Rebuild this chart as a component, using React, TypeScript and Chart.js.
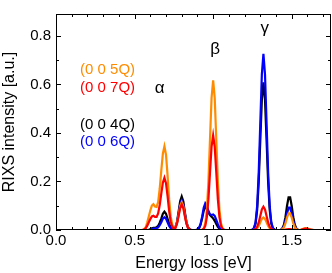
import { useEffect, useRef } from "react";
import { Chart, registerables } from "chart.js";

Chart.register(...registerables);

// Energy loss grid (eV)
const energy = [
  0, 0.5,
  0.55, 0.56, 0.57, 0.58, 0.59, 0.6, 0.61, 0.62, 0.63, 0.64, 0.65, 0.66, 0.67, 0.68, 0.69,
  0.7, 0.71, 0.72, 0.73, 0.74, 0.75, 0.76, 0.77, 0.78, 0.79, 0.8, 0.81, 0.82, 0.83, 0.84,
  0.85, 0.86, 0.87, 0.88, 0.89, 0.9, 0.91, 0.92, 0.93, 0.94, 0.95, 0.96, 0.97, 0.98, 0.99,
  1.0, 1.01, 1.02, 1.03, 1.04, 1.05, 1.06, 1.07, 1.08, 1.09, 1.1,
  1.15, 1.2,
  1.22, 1.23, 1.24, 1.25, 1.26, 1.27, 1.28, 1.29, 1.3, 1.31, 1.32, 1.33, 1.34, 1.35, 1.36,
  1.37, 1.38, 1.39, 1.4, 1.41, 1.42, 1.43, 1.44, 1.45, 1.46, 1.47, 1.48, 1.49, 1.5, 1.51,
  1.52, 1.53, 1.54, 1.55, 1.56, 1.57, 1.58, 1.59, 1.6, 1.61, 1.62, 1.63, 1.64,
  1.7, 1.75,
];

// (0 0 5Q) - orange
const q005 = [
  0, 0,
  0, 0.003, 0.01, 0.03, 0.055, 0.08, 0.1, 0.106, 0.097, 0.095, 0.115, 0.17, 0.245, 0.315, 0.345,
  0.31, 0.225, 0.125, 0.055, 0.022, 0.008, 0.011, 0.03, 0.062, 0.099, 0.115, 0.099, 0.062, 0.029, 0.01,
  0.002, 0, 0, 0, 0, 0, 0, 0, 0.001, 0.007, 0.027, 0.084, 0.2, 0.374, 0.545,
  0.617, 0.545, 0.374, 0.2, 0.084, 0.027, 0.007, 0.001, 0, 0, 0,
  0, 0,
  0, 0, 0, 0, 0.001, 0.002, 0.007, 0.017, 0.032, 0.046, 0.052, 0.046, 0.032, 0.017, 0.007,
  0.002, 0.001, 0, 0, 0, 0, 0.001, 0.003, 0.011, 0.027, 0.051, 0.069, 0.069, 0.051, 0.027,
  0.011, 0.003, 0.001, 0, 0.002, 0.004, 0.007, 0.008, 0.007, 0.004, 0.002, 0.001, 0,
  0, 0,
];

// (0 0 7Q) - red
const q007 = [
  0, 0,
  0, 0.002, 0.006, 0.017, 0.031, 0.045, 0.056, 0.059, 0.054, 0.054, 0.068, 0.103, 0.15, 0.195, 0.215,
  0.193, 0.14, 0.078, 0.034, 0.013, 0.006, 0.009, 0.026, 0.057, 0.09, 0.105, 0.09, 0.057, 0.026, 0.009,
  0.002, 0, 0, 0, 0, 0, 0, 0, 0.001, 0.004, 0.017, 0.053, 0.127, 0.237, 0.344,
  0.39, 0.344, 0.237, 0.127, 0.053, 0.017, 0.004, 0.001, 0, 0, 0,
  0, 0,
  0, 0, 0, 0, 0.001, 0.004, 0.013, 0.031, 0.058, 0.085, 0.096, 0.085, 0.058, 0.031, 0.013,
  0.004, 0.001, 0, 0, 0, 0, 0, 0, 0, 0.002, 0.003, 0.004, 0.004, 0.003, 0.002,
  0.001, 0, 0, 0, 0.001, 0.003, 0.005, 0.006, 0.005, 0.003, 0.002, 0.001, 0,
  0, 0,
];

// (0 0 4Q) - black
const q004 = [
  0, 0,
  0, 0, 0, 0, 0.001, 0.003, 0.007, 0.009, 0.009, 0.011, 0.017, 0.03, 0.047, 0.067, 0.076,
  0.067, 0.046, 0.025, 0.011, 0.004, 0.003, 0.012, 0.034, 0.074, 0.118, 0.138, 0.118, 0.074, 0.034, 0.012,
  0.003, 0.001, 0, 0, 0, 0.002, 0.007, 0.022, 0.048, 0.079, 0.095, 0.088, 0.072, 0.062, 0.055,
  0.048, 0.038, 0.025, 0.013, 0.005, 0.001, 0, 0, 0, 0, 0,
  0, 0,
  0, 0, 0, 0.001, 0.007, 0.027, 0.082, 0.197, 0.369, 0.537, 0.608, 0.537, 0.369, 0.197, 0.082,
  0.027, 0.007, 0.001, 0, 0, 0, 0.001, 0.006, 0.021, 0.053, 0.099, 0.135, 0.135, 0.099, 0.053,
  0.021, 0.006, 0.001, 0, 0, 0, 0, 0, 0, 0, 0, 0, 0,
  0, 0,
];

// (0 0 6Q) - blue
const q006 = [
  0, 0,
  0, 0, 0, 0, 0, 0.002, 0.004, 0.006, 0.006, 0.007, 0.011, 0.02, 0.032, 0.047, 0.053,
  0.047, 0.032, 0.017, 0.007, 0.003, 0.002, 0.01, 0.03, 0.066, 0.105, 0.122, 0.105, 0.066, 0.03, 0.01,
  0.003, 0, 0, 0, 0, 0.002, 0.008, 0.025, 0.055, 0.092, 0.11, 0.1, 0.078, 0.064, 0.062,
  0.064, 0.058, 0.042, 0.024, 0.01, 0.003, 0, 0, 0, 0, 0,
  0, 0,
  0, 0, 0, 0.002, 0.008, 0.032, 0.098, 0.236, 0.44, 0.641, 0.726, 0.641, 0.44, 0.236, 0.098,
  0.032, 0.008, 0.002, 0, 0, 0, 0.001, 0.004, 0.015, 0.037, 0.068, 0.092, 0.092, 0.068, 0.037,
  0.015, 0.004, 0.001, 0, 0, 0, 0, 0, 0, 0, 0, 0, 0,
  0, 0,
];

const seriesLabels = ["(0 0 5Q)", "(0 0 7Q)", "(0 0 4Q)", "(0 0 6Q)"];
const seriesColors = ["#ff8c00", "#ff0000", "#000000", "#0000ff"];
const xTicks = [0, 0.5, 1.0, 1.5];
const yTicks = [0, 0.2, 0.4, 0.6, 0.8];
const peakLabels = ["α", "β", "γ"];

const FONT = "'Liberation Sans', Arial, Helvetica, sans-serif";

const toPoints = (ys: number[]) => energy.map((x, i) => ({ x, y: ys[i] }));

const framePlugin = {
  id: "frameAndText",
  afterDatasetsDraw(chart: any) {
    const { ctx, chartArea: a, scales } = chart;
    const xs = scales.x;
    const ys = scales.y;
    ctx.save();
    ctx.strokeStyle = "#000";
    ctx.lineWidth = 1;
    ctx.strokeRect(a.left + 0.5, a.top + 0.5, a.right - a.left - 1, a.bottom - a.top - 1);
    ctx.beginPath();
    for (let k = 0; k <= 17; k++) {
      const v = k / 10;
      const px = Math.round(xs.getPixelForValue(v)) + 0.5;
      const len = k % 5 === 0 ? 5 : 3;
      ctx.moveTo(px, a.bottom);
      ctx.lineTo(px, a.bottom - len);
      ctx.moveTo(px, a.top);
      ctx.lineTo(px, a.top + len);
    }
    for (let k = 0; k <= 8; k++) {
      const v = k / 10;
      const py = Math.round(ys.getPixelForValue(v)) + 0.5;
      const len = k % 2 === 0 ? 5 : 3;
      ctx.moveTo(a.left, py);
      ctx.lineTo(a.left + len, py);
      ctx.moveTo(a.right, py);
      ctx.lineTo(a.right - len, py);
    }
    ctx.stroke();

    // legend texts
    ctx.font = `15px ${FONT}`;
    ctx.textAlign = "left";
    ctx.textBaseline = "middle";
    const legendY = [0.658, 0.586, 0.434, 0.363];
    seriesLabels.forEach((t, i) => {
      ctx.fillStyle = seriesColors[i];
      ctx.fillText(t, xs.getPixelForValue(0.153), ys.getPixelForValue(legendY[i]));
    });

    // peak labels
    ctx.font = `17px ${FONT}`;
    ctx.fillStyle = "#000";
    ctx.textAlign = "center";
    const peakPos = [
      [0.66, 0.585],
      [1.013, 0.745],
      [1.328, 0.83],
    ];
    peakLabels.forEach((t, i) => {
      ctx.fillText(t, xs.getPixelForValue(peakPos[i][0]), ys.getPixelForValue(peakPos[i][1]));
    });
    ctx.restore();
  },
};

export default function App() {
  const ref = useRef<HTMLCanvasElement | null>(null);
  useEffect(() => {
    document.body.style.margin = "0";
    const order = [1, 0, 3, 2];
    const datasets = order.map((idx) => ({
      label: seriesLabels[idx],
      data: toPoints([q005, q007, q004, q006][idx]),
      borderColor: seriesColors[idx],
      borderWidth: 2.2,
      pointRadius: 0,
      tension: 0,
      fill: false,
    }));
    const chart = new Chart(ref.current as HTMLCanvasElement, {
      type: "line",
      data: { datasets },
      options: {
        animation: false,
        responsive: false,
        devicePixelRatio: 1,
        layout: { padding: { top: 2, right: 1, left: 0, bottom: 0 } },
        plugins: { legend: { display: false }, tooltip: { enabled: false } },
        scales: {
          x: {
            type: "linear",
            min: 0,
            max: 1.75,
            afterBuildTicks: (s: any) => {
              s.ticks = xTicks.map((v) => ({ value: v }));
            },
            afterFit: (s: any) => {
              s.height = 43;
            },
            ticks: {
              callback: (v: any) => Number(v).toFixed(1),
              font: { family: FONT, size: 15 },
              color: "#000",
              padding: 2,
              maxRotation: 0,
              autoSkip: false,
            },
            grid: { display: false, drawTicks: false },
            border: { display: false },
            title: {
              display: true,
              text: "Energy loss [eV]",
              font: { family: FONT, size: 16 },
              color: "#000",
              padding: 0,
            },
          },
          y: {
            type: "linear",
            min: 0,
            max: 0.89,
            afterBuildTicks: (s: any) => {
              s.ticks = yTicks.map((v) => ({ value: v }));
            },
            afterFit: (s: any) => {
              s.width = 56;
            },
            ticks: {
              callback: (v: any) => Number(v).toFixed(1),
              font: { family: FONT, size: 15 },
              color: "#000",
              padding: 5,
              autoSkip: false,
            },
            grid: { display: false, drawTicks: false },
            border: { display: false },
            title: {
              display: true,
              text: "RIXS intensity [a.u.]",
              font: { family: FONT, size: 16 },
              color: "#000",
              padding: 0,
            },
          },
        },
      },
      plugins: [framePlugin],
    } as any);
    return () => chart.destroy();
  }, []);
  return (
    <div style={{ position: "fixed", left: 0, top: 0, width: 332, height: 273, background: "#fff" }}>
      <canvas ref={ref} width={332} height={273} style={{ width: 332, height: 273 }} />
    </div>
  );
}
